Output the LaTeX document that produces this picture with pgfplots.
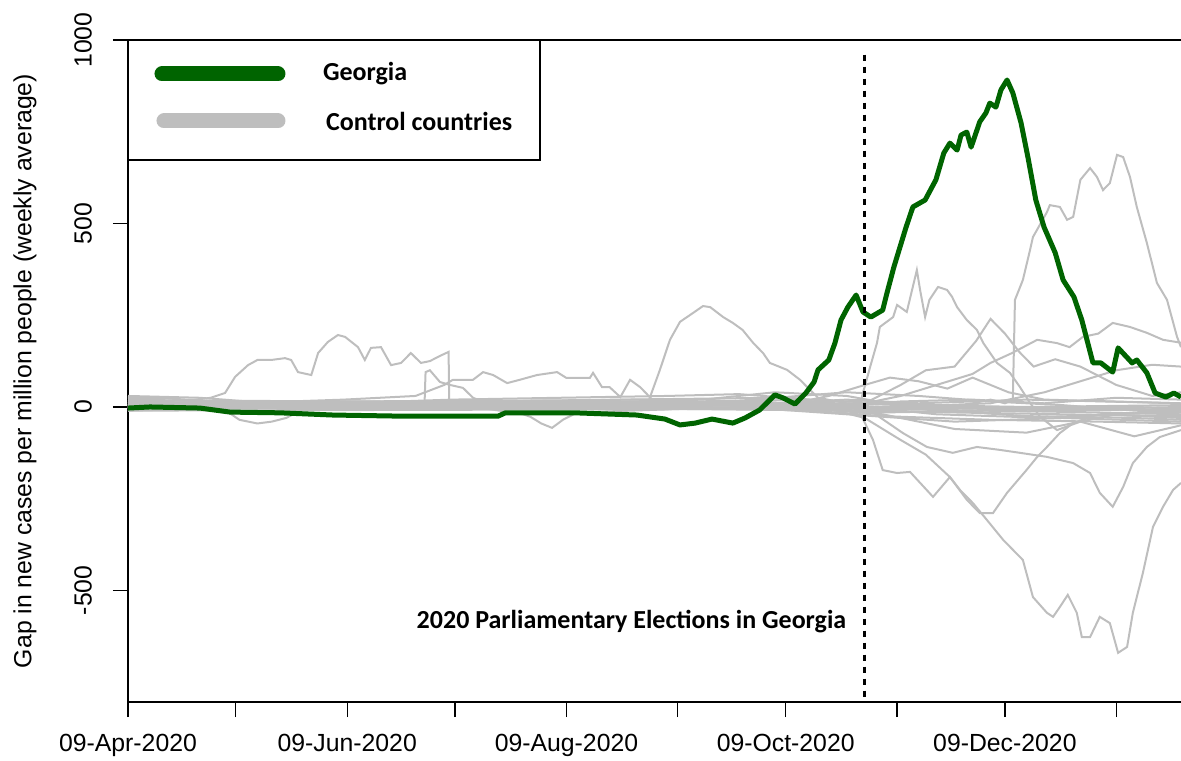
\documentclass[border=0pt]{standalone}
\usepackage{fontspec}
\setmainfont{Liberation Sans}
\newfontfamily\calibri{Carlito}
\usepackage{pgfplots}
\pgfplotsset{compat=1.18}
\definecolor{geo}{RGB}{0,100,0}
\definecolor{ctrl}{RGB}{190,190,190}

\begin{document}
\begin{tikzpicture}
\begin{axis}[
    name=ax,
    scale only axis,
    width=526.5pt, height=331pt,
    xmin=0, xmax=293,
    ymin=-804, ymax=1000,
    axis x line*=bottom, axis y line*=left,
    axis line style={-, line width=0.8pt},
    tick align=outside,
    major tick length=7.5pt,
    tick style={line width=0.6pt, black},
    xtick={0,30,61,91,122,153,183,214,244,275},
    xticklabels={09-Apr-2020,,09-Jun-2020,,09-Aug-2020,,09-Oct-2020,,09-Dec-2020,},
    ytick={-500,0,500,1000},
    yticklabels={-500,0,500,1000},
    yticklabel style={rotate=90, anchor=center, yshift=15pt},
    xticklabel style={yshift=-5pt},
    ticklabel style={font=\fontsize{12.4}{14}\selectfont},
    ylabel={Gap in new cases per million people (weekly average)},
    every axis y label/.style={at={(rel axis cs:0,0.5)}, xshift=-51.5pt, rotate=90, anchor=center,
        font=\fontsize{12.4}{14}\selectfont},
    clip=true,
]
% control countries
\addplot[ctrl, line width=1pt] coordinates {(0,25) (8,25) (18,19) (23,25) (27,38) (29.8,82) (33.4,114) (36,128) (39.8,128) (43.7,133) (45.4,128) (47.3,95) (51,87) (52.9,147) (55.6,177) (58.4,196) (60.4,191) (64,163) (65.9,128) (67.6,161) (70.4,163) (73.2,114) (76,120) (78.7,147) (81.5,120) (84,125) (87,140) (89.2,150) (89.4,10) (95,15) (120,10) (150,15) (180,5) (200,10) (230,0) (260,-10) (293,-5)};
\addplot[ctrl, line width=1pt] coordinates {(0,10) (20,12) (50,8) (82.5,5) (82.8,95) (84,100) (86.8,68) (89.6,60) (93.2,52) (96,25) (100,10) (130,12) (170,8) (200,5) (230,-10) (260,-5) (293,-10)};
\addplot[ctrl, line width=1pt] coordinates {(0,15) (30,10) (60,20) (80,30) (88,60) (90.4,74) (96,74) (98.8,95) (101.6,87) (105.5,65) (109,74) (113.8,87) (119.4,95) (122,79) (128.5,79) (129.4,93) (131.9,54) (134,54) (137,27) (139.7,74) (142.5,54) (146,19) (160,20) (180,10) (200,20) (220,10) (250,20) (293,10)};
\addplot[ctrl, line width=1pt] coordinates {(0,5) (30,0) (60,10) (100,15) (140,20) (145,20) (148,101) (150.8,183) (153.6,232) (157.2,256) (160,275) (162,272) (165.6,245) (168.3,229) (171,210) (174,174) (176.7,147) (178.6,120) (183.4,101) (187,74) (189,54) (192,25) (200,10) (220,5) (250,0) (293,5)};
\addplot[ctrl, line width=1pt] coordinates {(0,0) (100,5) (180,10) (200,15) (204,20) (206.5,109) (208.4,174) (209.2,218) (212.9,245) (214,278) (216.7,259) (219.5,373) (220.4,319) (221.8,245) (223,292) (225.4,327) (227.9,319) (229.3,300) (230.7,272) (233.4,237) (236.2,210) (238,174) (241.8,120) (245.4,93) (248.2,54) (251,11) (253.8,-27) (258.5,-63) (265,-40) (275,-20) (293,-10)};
\addplot[ctrl, line width=1pt] coordinates {(0,-5) (100,0) (200,-10) (230,0) (240,20) (244,10) (246.2,20) (246.8,292) (249,346) (251,428) (251.8,463) (252.9,482) (255.7,531) (256.5,550) (259.3,545) (261.3,510) (263,518) (265,619) (267.7,651) (269.6,627) (271.3,591) (273.2,610) (275.2,687) (276.9,681) (278.8,627) (280.7,545) (283.5,447) (286.3,338) (289.1,292) (291.9,191) (293,163)};
\addplot[ctrl, line width=1pt] coordinates {(0,0) (100,-5) (200,0) (215,30) (225,60) (235,90) (240,120) (246,147) (253,183) (258.5,174) (262,163) (265.7,191) (270,200) (274,229) (278.8,218) (283.5,202) (288,183) (293,175)};
\addplot[ctrl, line width=1pt] coordinates {(0,10) (150,15) (200,5) (205,10) (215,60) (222,100) (230,110) (236,180) (240,240) (244,200) (248,150) (252,110) (258,130) (265,110) (275,60) (285,30) (293,40)};
\addplot[ctrl, line width=1pt] coordinates {(0,-10) (200,-5) (240,10) (255,40) (265,70) (275,100) (285,115) (293,110)};
\addplot[ctrl, line width=1pt] coordinates {(0,5) (150,10) (190,20) (195,30) (205,60) (212,80) (220,70) (228,50) (235,80) (245,40) (255,20) (293,10)};
\addplot[ctrl, line width=1pt] coordinates {(0,-5) (150,0) (195,-5) (205,-30) (215,-90) (222,-130) (228.7,-191) (231.5,-226) (235.1,-262) (239,-308) (243.5,-362) (249,-417) (251.8,-518) (255.7,-561) (257.4,-572) (259.3,-545) (261.5,-512) (264,-561) (265.4,-627) (267.7,-627) (270.4,-572) (273.2,-589) (275.5,-670) (278,-654) (279.6,-561) (282.4,-452) (285.2,-327) (288,-272) (290.8,-226) (293,-207)};
\addplot[ctrl, line width=1pt] coordinates {(0,0) (150,-5) (200,-5) (203.7,-16) (207.3,-90) (210,-172) (214,-180) (217.6,-177) (224,-245) (228.7,-191) (233.4,-253) (237,-289) (240.7,-289) (244.6,-234) (250,-172) (253,-136) (255.7,-109) (259.3,-71) (263,-44) (270,-20) (293,-15)};
\addplot[ctrl, line width=1pt] coordinates {(0,5) (150,5) (205,0) (215.6,-71) (222.3,-109) (229.5,-125) (236.2,-109) (242.6,-117) (248.2,-125) (255.7,-136) (263,-153) (267.7,-180) (270.4,-234) (274,-272) (276.9,-218) (279.6,-153) (283.5,-109) (287.1,-82) (293,-63)};
\addplot[ctrl, line width=1pt] coordinates {(0,0) (190,-5) (210,-20) (230,-60) (250,-70) (265,-40) (280,-80) (293,-50)};
\addplot[ctrl, line width=1pt] coordinates {(0,-10) (20,-5) (28,-15) (31,-35) (36,-45) (40,-40) (44,-30) (48,-10) (60,-5) (100,-5) (110,-20) (112,-27) (115,-45) (118,-57) (121,-35) (125,-15) (140,-10) (170,0) (200,-20) (230,-40) (260,-30) (293,-40)};
\addplot[ctrl, line width=1pt] coordinates {(0,20) (30,15) (60,10) (90,20) (120,25) (150,30) (170,35) (190,20) (210,10) (240,0) (270,-5) (293,0)};
\addplot[ctrl, line width=1pt] coordinates {(0,5) (40,10) (80,15) (110,10) (140,5) (165,15) (185,25) (205,-10) (230,-15) (260,-20) (293,-25)};
\addplot[ctrl, line width=1pt] coordinates {(0,-5) (30,0) (60,5) (90,0) (120,10) (160,20) (180,40) (200,30) (220,-5) (250,-25) (280,-30) (293,-35)};
\addplot[ctrl, line width=1pt] coordinates {(0,30) (20,25) (40,10) (70,5) (100,5) (130,15) (160,10) (190,-10) (210,-25) (240,-35) (270,-40) (293,-45)};
\addplot[ctrl, line width=1pt] coordinates {(0,0) (50,-5) (100,0) (140,10) (170,-5) (195,0) (215,15) (235,20) (255,10) (275,25) (293,20)};
\addplot[ctrl, line width=1pt] coordinates {(0,12) (60,15) (120,18) (180,25) (200,40) (220,30) (240,15) (260,5) (280,-10) (293,-15)};
\addplot[ctrl, line width=1pt] coordinates {(0,-2) (80,2) (150,0) (190,-5) (210,-15) (240,-10) (270,-15) (293,-20)};
\addplot[ctrl, line width=1pt] coordinates {(0,8) (100,6) (180,3) (205,-5) (225,-8) (250,-12) (275,-6) (293,-10)};
\addplot[ctrl, line width=1pt] coordinates {(0,3) (120,4) (190,6) (210,-2) (235,-4) (260,-2) (280,0) (293,-4)};
\addplot[ctrl, line width=1pt] coordinates {(0,18) (90,14) (170,12) (200,5) (225,-20) (250,-28) (275,-22) (293,-30)};
% Georgia
\addplot[geo, line width=2.5pt, line join=round] coordinates {(0,-3) (6.1,0) (20,-3) (28.4,-14) (42.3,-16) (57,-22) (75.7,-25) (103,-25) (105,-16) (124.4,-16) (141.6,-22) (149.4,-33) (153.6,-49) (157.8,-44) (162.5,-33) (168.3,-44) (171.7,-30) (175.8,-8) (180,33) (182.2,25) (185.6,8) (188.6,38) (190.9,68) (192,101) (195,128) (196.7,174) (198.4,237) (200.3,272) (202.6,305) (204.5,259) (206.7,245) (210,264) (211.2,311) (213.1,381) (216.5,490) (218.4,545) (221.8,564) (224.8,619) (227,692) (228.7,719) (230.7,700) (231.8,741) (233.4,749) (234.6,708) (237,777) (238.7,801) (239.8,828) (241.5,817) (242.9,864) (244.6,891) (246.2,856) (248.5,774) (250.4,681) (252.6,564) (254.9,490) (258,420) (260.2,346) (263.2,300) (265.4,237) (268.5,120) (270.7,120) (274,95) (275.5,161) (279.4,120) (280.7,128) (283.5,93) (285.8,38) (288.8,27) (291,38) (293,27)};
% election date
\addplot[black, line width=1.5pt, dash pattern=on 3pt off 3pt] coordinates {(205,960) (205,-804)};
\node[anchor=east, font=\calibri\bfseries\fontsize{13}{15}\selectfont] at (axis cs:201.8,-586) {2020 Parliamentary Elections in Georgia};
\end{axis}
\draw[line width=0.8pt] (ax.north west) -- (ax.north east);
% legend
\draw[line width=0.8pt, fill=white] (ax.north west) rectangle ([xshift=206pt,yshift=-60pt]ax.north west);
\draw[geo, line width=7.5pt, line cap=round] ([xshift=17pt,yshift=-17pt]ax.north west) -- ([xshift=75pt,yshift=-17pt]ax.north west);
\draw[ctrl, line width=7.5pt, line cap=round] ([xshift=18pt,yshift=-40.5pt]ax.north west) -- ([xshift=75pt,yshift=-40.5pt]ax.north west);
\node[anchor=west, font=\calibri\bfseries\fontsize{13}{15}\selectfont] at ([xshift=94pt,yshift=-17pt]ax.north west) {Georgia};
\node[anchor=west, font=\calibri\bfseries\fontsize{13}{15}\selectfont] at ([xshift=95.5pt,yshift=-40.5pt]ax.north west) {Control countries};
\pgfresetboundingbox
\path[use as bounding box] ([xshift=-64pt,yshift=-29.5pt]ax.south west) rectangle ([yshift=20pt]ax.north east);
\end{tikzpicture}
\end{document}
